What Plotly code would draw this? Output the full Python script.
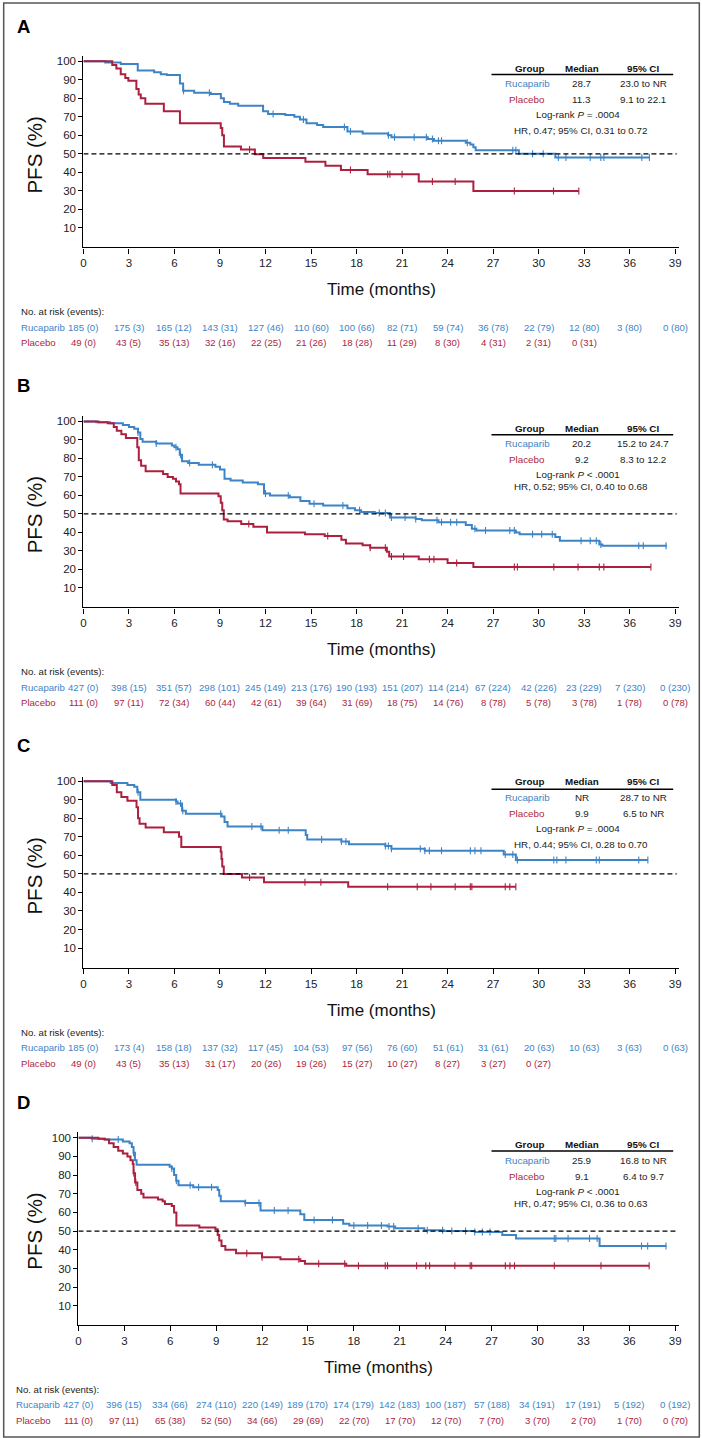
import plotly.graph_objects as go

W, H = 702, 1438
FONT = "Liberation Sans, Arial, sans-serif"
BLUE = "#3d84c6"
RED = "#ad1f3e"

time_ticks = list(range(0, 40, 3))
pfs_ticks = list(range(10, 101, 10))
groups = ["Rucaparib", "Placebo"]

# ---------------- Panel A ----------------
A_ruc_time = [1.44, 2.46, 3.58, 4.66, 5.1, 5.5, 6.36, 6.57, 7.3, 8.4, 9.06, 9.26, 9.65, 10.2, 11.84, 12.17,
              13.3, 13.9, 14.27, 14.7, 15.4, 15.8, 17.4, 18.4, 20.08, 20.3, 22.7, 23.1, 25.2, 25.5, 25.7,
              25.85, 28.7, 31.1]
A_ruc_surv = [99.3, 98.5, 95, 94, 93, 92.5, 88, 84, 83, 82.3, 80, 78, 77, 76, 73, 71.5,
              71, 70, 68.5, 66.5, 65.5, 64.5, 62, 61, 60, 59, 58, 57, 56, 55, 53.5,
              52, 50, 48]
A_ruc_end = 37.3
A_ruc_cens = [6.6, 8.3, 12.5, 14.5, 17.2, 17.6, 20.1, 20.5, 21.8, 22.6, 23.0, 23.4, 23.6, 25.3, 28.3, 28.5,
              29.6, 30.3, 31.3, 31.8, 33.4, 34.1, 34.3, 36.8, 37.3]
A_pla_time = [1.9, 2.17, 2.46, 2.76, 2.96, 3.49, 3.64, 3.78, 4.08, 5.3, 6.36, 9.05, 9.15, 9.26, 10.38,
              11.3, 11.85, 14.63, 15.95, 16.97, 18.73, 22.1, 25.7]
A_pla_surv = [98, 96, 93, 91, 89.5, 85, 82, 80, 77, 73, 66.5, 64, 60, 54, 52.3,
              49.8, 47.7, 45.7, 43.5, 41.3, 39, 35, 30]
A_pla_end = 32.65
A_pla_cens = [10.95, 17.6, 20.05, 20.2, 21.0, 23.0, 24.5, 28.4, 30.98, 32.65]
A_ruc_risk = ["185 (0)", "175 (3)", "165 (12)", "143 (31)", "127 (46)", "110 (60)", "100 (66)", "82 (71)",
              "59 (74)", "36 (78)", "22 (79)", "12 (80)", "3 (80)", "0 (80)"]
A_pla_risk = ["49 (0)", "43 (5)", "35 (13)", "32 (16)", "22 (25)", "21 (26)", "18 (28)", "11 (29)",
              "8 (30)", "4 (31)", "2 (31)", "0 (31)"]
A_median = ["28.7", "11.3"]
A_ci = ["23.0 to NR", "9.1 to 22.1"]
A_logrank = "Log-rank <i>P</i> = .0004"
A_hr = "HR, 0.47; 95% CI, 0.31 to 0.72"

# ---------------- Panel B ----------------
B_ruc_time = [0.85, 1.75, 2.6, 3.0, 3.35, 3.6, 3.75, 3.9, 4.8, 5.83, 6.0, 6.2, 6.35, 6.5, 6.9, 7.6, 8.7,
              9.0, 9.3, 9.7, 10.5, 11.5, 11.9, 12.3, 13.6, 14.3, 14.9, 15.8, 17.4, 17.9, 18.3, 19.2, 20.2,
              21.9, 22.3, 23.4, 25.2, 25.6, 25.9, 28.5, 28.75, 31.1, 31.4, 34.0, 34.2]
B_ruc_surv = [99.5, 99, 98, 97, 96, 94, 90.5, 89, 88, 87, 86, 85, 82, 78.5, 77.5, 76.5, 75.5,
              74, 69, 68, 67, 66, 61, 60, 59, 57, 55.5, 54.5, 53, 52, 51, 50.5, 48,
              47.3, 46.5, 45.5, 44, 42, 41, 40, 39, 37.5, 35.5, 33.5, 32.8]
B_ruc_end = 38.45
B_ruc_cens = [3.6, 4.8, 6.1, 6.4, 7.0, 8.5, 12.0, 13.5, 15.2, 17.1, 18.2, 19.5, 19.9, 20.3, 21.2, 21.9,
              23.3, 23.6, 24.2, 24.6, 25.8, 26.5, 28.1, 28.4, 29.6, 30.2, 30.9, 32.8, 33.4, 33.8, 34.1,
              36.6, 36.9, 38.4]
B_pla_time = [1.0, 1.6, 2.0, 2.2, 2.5, 2.8, 3.55, 3.65, 3.8, 4.1, 5.25, 5.55, 5.9, 6.1, 6.3, 6.4, 8.9,
              9.05, 9.15, 9.25, 9.5, 10.4, 11.2, 12.1, 14.6, 15.9, 17.0, 17.3, 18.4, 18.9, 20.0, 20.15,
              22.1, 24.0, 25.7]
B_pla_surv = [99.5, 99, 97, 95, 93, 91, 86, 79, 76, 73, 71.5, 70, 69, 67.5, 66, 61, 59.5,
              56, 52, 47, 46, 44.5, 43, 40, 39, 38, 36, 34, 33, 31.7, 29.5, 27,
              25.5, 23.5, 21.3]
B_pla_end = 37.4
B_pla_cens = [10.9, 16.1, 18.9, 19.9, 20.3, 21.1, 22.8, 23.1, 24.6, 28.4, 28.6, 31.0, 32.6, 34.0, 34.3, 37.4]
B_ruc_risk = ["427 (0)", "398 (15)", "351 (57)", "298 (101)", "245 (149)", "213 (176)", "190 (193)",
              "151 (207)", "114 (214)", "67 (224)", "42 (226)", "23 (229)", "7 (230)", "0 (230)"]
B_pla_risk = ["111 (0)", "97 (11)", "72 (34)", "60 (44)", "42 (61)", "39 (64)", "31 (69)", "18 (75)",
              "14 (76)", "8 (78)", "5 (78)", "3 (78)", "1 (78)", "0 (78)"]
B_median = ["20.2", "9.2"]
B_ci = ["15.2 to 24.7", "8.3 to 12.2"]
B_logrank = "Log-rank <i>P</i> &lt; .0001"
B_hr = "HR, 0.52; 95% CI, 0.40 to 0.68"

# ---------------- Panel C ----------------
C_ruc_time = [1.8, 2.9, 3.35, 3.55, 3.75, 6.1, 6.2, 6.5, 6.75, 9.1, 9.3, 9.5, 11.8, 14.65, 14.75, 17.0,
              17.5, 19.9, 20.3, 22.5, 27.7, 28.5]
C_ruc_surv = [99, 98, 97, 94, 90, 89, 88, 84, 82.5, 81, 78, 75.5, 73.5, 71, 68.5, 67.5,
              66, 65, 63.5, 62.5, 60.5, 57.5]
C_ruc_end = 37.2
C_ruc_cens = [3.6, 6.1, 6.4, 6.55, 9.05, 11.1, 11.7, 12.9, 13.5, 15.7, 17.0, 17.3, 19.9, 20.1, 20.3, 22.2,
              22.5, 22.8, 23.6, 25.5, 25.8, 26.2, 27.8, 28.3, 28.6, 31.0, 31.2, 31.8, 33.8, 34.0, 36.6, 37.2]
C_pla_time = [1.9, 2.2, 2.5, 2.9, 3.5, 3.6, 3.7, 4.1, 5.3, 6.3, 6.45, 9.05, 9.1, 9.15, 9.25, 10.45, 11.9, 17.45]
C_pla_surv = [98, 94, 91.5, 89.5, 86, 80, 77, 75, 72.5, 70, 64.5, 62, 58, 54, 50, 48, 45.5, 43]
C_pla_end = 28.5
C_pla_cens = [10.95, 14.6, 15.65, 20.05, 22.0, 22.9, 24.5, 25.5, 25.6, 27.8, 28.1, 28.5]
C_ruc_risk = ["185 (0)", "173 (4)", "158 (18)", "137 (32)", "117 (45)", "104 (53)", "97 (56)", "76 (60)",
              "51 (61)", "31 (61)", "20 (63)", "10 (63)", "3 (63)", "0 (63)"]
C_pla_risk = ["49 (0)", "43 (5)", "35 (13)", "31 (17)", "20 (26)", "19 (26)", "15 (27)", "10 (27)",
              "8 (27)", "3 (27)", "0 (27)"]
C_median = ["NR", "9.9"]
C_ci = ["28.7 to NR", "6.5 to NR"]
C_logrank = "Log-rank <i>P</i> = .0004"
C_hr = "HR, 0.44; 95% CI, 0.28 to 0.70"

# ---------------- Panel D ----------------
D_ruc_time = [0.87, 1.74, 2.9, 3.34, 3.49, 3.6, 3.69, 3.8, 5.96, 6.1, 6.25, 6.39, 6.54, 7.5, 9.1, 9.2,
              9.3, 10.9, 11.9, 14.5, 14.76, 17.3, 17.7, 20.2, 20.7, 22.6, 23.9, 25.9, 27.7, 28.6, 34.06]
D_ruc_surv = [99.5, 99, 98, 97, 95, 92, 88, 85.5, 84.5, 83.5, 80, 77, 74.5, 73.5, 72, 69,
              66, 65, 61, 59, 56, 54, 53, 52.5, 51.5, 50.5, 50.1, 49.5, 48, 46, 42]
D_ruc_end = 38.42
D_ruc_cens = [0.9, 2.6, 3.6, 6.1, 6.4, 7.3, 7.85, 8.7, 10.9, 11.8, 12.8, 13.7, 15.4, 16.6, 18.0, 18.9,
              19.8, 20.3, 20.6, 22.2, 22.8, 23.8, 24.4, 25.3, 25.9, 26.4, 26.9, 31.1, 31.2, 32.0, 33.4,
              33.9, 36.8, 37.2, 38.4]
D_pla_time = [1.3, 1.7, 2.0, 2.3, 2.6, 2.9, 3.2, 3.4, 3.55, 3.6, 3.7, 3.85, 4.1, 4.25, 5.2, 5.5, 5.65,
              6.1, 6.25, 6.4, 7.9, 8.95, 9.1, 9.2, 9.35, 9.6, 10.3, 12.0, 13.2, 14.5, 14.8, 17.5]
D_pla_surv = [99.5, 99, 97, 95, 93, 91.5, 90, 88, 86, 81, 76, 72, 70, 68, 67, 66, 64.5,
              63.5, 60, 53, 52, 51, 48, 45, 42, 40, 38.2, 36, 35, 34, 32.5, 31.5]
D_pla_end = 37.3
D_pla_cens = [3.62, 3.75, 11.0, 12.0, 14.4, 15.7, 17.4, 18.3, 20.05, 20.2, 22.1, 22.7, 22.95, 24.6, 25.6,
              25.7, 27.9, 28.2, 28.5, 31.1, 34.15, 37.3]
D_ruc_risk = ["427 (0)", "396 (15)", "334 (66)", "274 (110)", "220 (149)", "189 (170)", "174 (179)",
              "142 (183)", "100 (187)", "57 (188)", "34 (191)", "17 (191)", "5 (192)", "0 (192)"]
D_pla_risk = ["111 (0)", "97 (11)", "65 (38)", "52 (50)", "34 (66)", "29 (69)", "22 (70)", "17 (70)",
              "12 (70)", "7 (70)", "3 (70)", "2 (70)", "1 (70)", "0 (70)"]
D_median = ["25.9", "9.1"]
D_ci = ["16.8 to NR", "6.4 to 9.7"]
D_logrank = "Log-rank <i>P</i> &lt; .0001"
D_hr = "HR, 0.47; 95% CI, 0.36 to 0.63"

panel_data = {
    "A": dict(rt=A_ruc_time, rs=A_ruc_surv, re=A_ruc_end, rc=A_ruc_cens,
              pt=A_pla_time, ps=A_pla_surv, pe=A_pla_end, pc=A_pla_cens,
              rr=A_ruc_risk, pr=A_pla_risk, med=A_median, ci=A_ci, lr=A_logrank, hr=A_hr),
    "B": dict(rt=B_ruc_time, rs=B_ruc_surv, re=B_ruc_end, rc=B_ruc_cens,
              pt=B_pla_time, ps=B_pla_surv, pe=B_pla_end, pc=B_pla_cens,
              rr=B_ruc_risk, pr=B_pla_risk, med=B_median, ci=B_ci, lr=B_logrank, hr=B_hr),
    "C": dict(rt=C_ruc_time, rs=C_ruc_surv, re=C_ruc_end, rc=C_ruc_cens,
              pt=C_pla_time, ps=C_pla_surv, pe=C_pla_end, pc=C_pla_cens,
              rr=C_ruc_risk, pr=C_pla_risk, med=C_median, ci=C_ci, lr=C_logrank, hr=C_hr),
    "D": dict(rt=D_ruc_time, rs=D_ruc_surv, re=D_ruc_end, rc=D_ruc_cens,
              pt=D_pla_time, ps=D_pla_surv, pe=D_pla_end, pc=D_pla_cens,
              rr=D_ruc_risk, pr=D_pla_risk, med=D_median, ci=D_ci, lr=D_logrank, hr=D_hr),
}

# ---------------- layout geometry (pixels) ----------------
geom = {
    "A": dict(x0=81, x39=677, xr=681, y100=59.3, y0=244.8, top=54, bot=245.7, letter_y=25, lab_x=16,
              leg=[7.4, 13.4, 22.4, 38.7, 53.7, 69.4]),
    "B": dict(x0=81, x39=677, xr=681, y100=420.0, y0=605.2, top=414.3, bot=606.3, letter_y=384, lab_x=16,
              leg=[6.7, 13.3, 22.3, 37.7, 52.7, 65.0]),
    "C": dict(x0=81, x39=677, xr=681, y100=780.3, y0=965.9, top=776, bot=967.3, letter_y=745, lab_x=16,
              leg=[0.7, 8.0, 16.7, 32.0, 47.4, 63.0]),
    "D": dict(x0=76, x39=677, xr=681, y100=1137.3, y0=1324.4, top=1131.7, bot=1325, letter_y=1102, lab_x=11,
              leg=[7.0, 13.4, 22.4, 38.4, 53.7, 65.4]),
}

LEG_SIZE = 9.8
RISK_SIZE = 9.6
TICK_SIZE = 11.5
TITLE_SIZE = 17


def px(x):
    return x / W


def py(y):
    return 1 - y / H


def surv_at(t, times, survs):
    s = 100.0
    for ti, si in zip(times, survs):
        if ti <= t:
            s = si
        else:
            break
    return s


fig = go.Figure()
annotations = []
shapes = []
layout_axes = {}

for i, key in enumerate(["A", "B", "C", "D"]):
    d = panel_data[key]
    g = geom[key]
    n = i + 1
    xa = "x" if n == 1 else f"x{n}"
    ya = "y" if n == 1 else f"y{n}"
    xname = "xaxis" if n == 1 else f"xaxis{n}"
    yname = "yaxis" if n == 1 else f"yaxis{n}"

    xmax = 39 * (g["xr"] - g["x0"]) / (g["x39"] - g["x0"])
    s = (g["y0"] - g["y100"]) / 100.0
    ylo = (g["y0"] - g["bot"]) / s
    yhi = (g["y0"] - g["top"]) / s

    layout_axes[xname] = dict(
        domain=[px(g["x0"]), px(g["xr"])], range=[0, xmax], anchor=ya,
        tickvals=time_ticks, ticktext=[str(v) for v in time_ticks],
        showline=True, linecolor="black", linewidth=1.3, ticks="outside", ticklen=5,
        tickwidth=1.1, tickcolor="black", showgrid=False, zeroline=False,
        tickfont=dict(family=FONT, size=TICK_SIZE, color="#222"), fixedrange=True)
    layout_axes[yname] = dict(
        domain=[py(g["bot"]), py(g["top"])], range=[ylo, yhi], anchor=xa,
        tickvals=pfs_ticks, ticktext=[str(v) for v in pfs_ticks],
        showline=True, linecolor="black", linewidth=1.3, ticks="outside", ticklen=4,
        tickwidth=1.1, tickcolor="black", showgrid=False, zeroline=False,
        tickfont=dict(family=FONT, size=TICK_SIZE, color="#222"), fixedrange=True)

    # curves
    for times, survs, end, cens, col in [
        (d["rt"], d["rs"], d["re"], d["rc"], BLUE),
        (d["pt"], d["ps"], d["pe"], d["pc"], RED),
    ]:
        fig.add_trace(go.Scatter(
            x=[0] + times + [end], y=[100] + survs + [survs[-1]],
            mode="lines", line=dict(color=col, width=2, shape="hv"),
            xaxis=xa, yaxis=ya, showlegend=False, hoverinfo="skip"))
        fig.add_trace(go.Scatter(
            x=cens, y=[surv_at(c, times, survs) for c in cens],
            mode="markers", marker=dict(symbol="line-ns", size=5, line=dict(width=1.1, color=col)),
            xaxis=xa, yaxis=ya, showlegend=False, hoverinfo="skip"))

    # 50% reference line
    shapes.append(dict(type="line", xref=xa, yref=ya, x0=0, x1=39.1, y0=50, y1=50,
                       line=dict(color="black", width=1.4, dash="5px,3px")))

    # panel letter
    annotations.append(dict(text=f"<b>{key}</b>", x=px(12), y=py(g["letter_y"]), xref="paper", yref="paper",
                            xanchor="left", yanchor="middle", showarrow=False,
                            font=dict(family=FONT, size=18.5, color="black")))
    # axis titles
    annotations.append(dict(text="PFS (%)", x=px(32), y=py(g["top"] + 99), xref="paper", yref="paper",
                            textangle=-90, xanchor="center", yanchor="middle", showarrow=False,
                            font=dict(family=FONT, size=20.5, color="#111")))
    annotations.append(dict(text="Time (months)", x=px((g["x0"] + g["xr"]) / 2), y=py(g["bot"] + 42.5),
                            xref="paper", yref="paper", xanchor="center", yanchor="middle", showarrow=False,
                            font=dict(family=FONT, size=TITLE_SIZE, color="#111")))

    # legend table
    leg = g["leg"]
    ly = lambda k: py(g["y100"] + leg[k])
    for txt, xx in [("<b>Group</b>", 530), ("<b>Median</b>", 583), ("<b>95% CI</b>", 645)]:
        annotations.append(dict(text=txt, x=px(xx), y=ly(0), xref="paper", yref="paper", xanchor="center",
                                yanchor="middle", showarrow=False,
                                font=dict(family=FONT, size=LEG_SIZE, color="#111")))
    shapes.append(dict(type="line", xref="paper", yref="paper", x0=px(492), x1=px(675), y0=ly(1), y1=ly(1),
                       line=dict(color="black", width=1.5)))
    for r, (grp, col) in enumerate(zip(groups, [BLUE, RED])):
        for txt, xx, c in [(grp, 528, col), (d["med"][r], 583, "#222"), (d["ci"][r], 645, "#222")]:
            annotations.append(dict(text=txt, x=px(xx), y=ly(2 + r), xref="paper", yref="paper",
                                    xanchor="center", yanchor="middle", showarrow=False,
                                    font=dict(family=FONT, size=LEG_SIZE, color=c)))
    annotations.append(dict(text=d["lr"], x=px(579), y=ly(4), xref="paper", yref="paper", xanchor="center",
                            yanchor="middle", showarrow=False, font=dict(family=FONT, size=LEG_SIZE, color="#222")))
    annotations.append(dict(text=d["hr"], x=px(582), y=ly(5), xref="paper", yref="paper", xanchor="center",
                            yanchor="middle", showarrow=False, font=dict(family=FONT, size=LEG_SIZE, color="#222")))

    # risk table
    rows_y = [g["bot"] + 64.5, g["bot"] + 79.8, g["bot"] + 95.6]
    annotations.append(dict(text="No. at risk (events):", x=px(g["lab_x"]), y=py(rows_y[0]), xref="paper",
                            yref="paper", xanchor="left", yanchor="middle", showarrow=False,
                            font=dict(family=FONT, size=RISK_SIZE, color="#222")))
    for r, (grp, col, vals) in enumerate(zip(groups, [BLUE, RED], [d["rr"], d["pr"]])):
        annotations.append(dict(text=grp, x=px(g["lab_x"]), y=py(rows_y[1 + r]), xref="paper", yref="paper",
                                xanchor="left", yanchor="middle", showarrow=False,
                                font=dict(family=FONT, size=RISK_SIZE, color=col)))
        for t, v in zip(time_ticks, vals):
            annotations.append(dict(text=v, x=t, y=py(rows_y[1 + r]), xref=xa, yref="paper",
                                    xanchor="center", yanchor="middle", showarrow=False,
                                    font=dict(family=FONT, size=RISK_SIZE, color=col)))

# outer frame
shapes.append(dict(type="rect", xref="paper", yref="paper", x0=0.001, x1=0.999, y0=0.0007, y1=0.9993,
                   line=dict(color="#555", width=1.5)))

fig.update_layout(
    width=W, height=H, margin=dict(l=0, r=0, t=0, b=0),
    paper_bgcolor="white", plot_bgcolor="white", showlegend=False,
    annotations=annotations, shapes=shapes, **layout_axes)

fig.write_html("out.html", config={"displayModeBar": False},
               post_script="document.body.style.margin='0px';document.body.style.padding='0px';")
